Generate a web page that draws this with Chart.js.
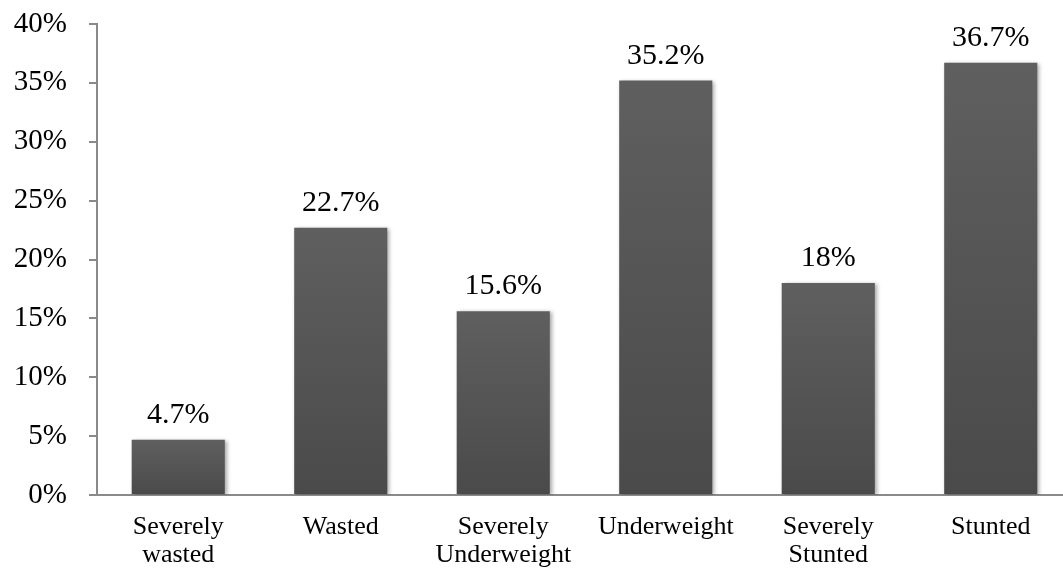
<!DOCTYPE html>
<html>
<head>
<meta charset="utf-8">
<script src="https://cdn.jsdelivr.net/npm/chart.js@4/dist/chart.umd.min.js"></script>
<style>
  html, body { margin: 0; padding: 0; background: #fff; overflow: hidden; }
  #wrap { width: 1063px; height: 572px; overflow: hidden; }
</style>
</head>
<body>
<div id="wrap"><canvas id="malnutrition" width="1072" height="572"></canvas></div>
<script>
const categories = [
  ['Severely', 'wasted'],
  'Wasted',
  ['Severely', 'Underweight'],
  'Underweight',
  ['Severely', 'Stunted'],
  'Stunted'
];
const prevalence = [4.7, 22.7, 15.6, 35.2, 18, 36.7];
const valueLabels = ['4.7%', '22.7%', '15.6%', '35.2%', '18%', '36.7%'];

const serif = "'Liberation Serif', 'Times New Roman', serif";
const axisGrey = '#8a8a8a';

// soft drop shadow behind the bars
const barShadow = {
  id: 'barShadow',
  beforeDatasetsDraw(chart) {
    const c = chart.ctx;
    c.save();
    c.shadowColor = 'rgba(0,0,0,0.35)';
    c.shadowBlur = 4;
    c.shadowOffsetX = 2;
    c.shadowOffsetY = 1;
  },
  afterDatasetsDraw(chart) {
    chart.ctx.restore();
  }
};

// value text above each bar
const valueText = {
  id: 'valueText',
  afterDatasetsDraw(chart) {
    const c = chart.ctx;
    const meta = chart.getDatasetMeta(0);
    c.save();
    c.font = '30px ' + serif;
    c.fillStyle = '#000';
    c.textAlign = 'center';
    c.textBaseline = 'alphabetic';
    meta.data.forEach((bar, i) => {
      c.fillText(valueLabels[i], bar.x, bar.y - 17);
    });
    c.restore();
  }
};

new Chart(document.getElementById('malnutrition'), {
  type: 'bar',
  data: {
    labels: categories,
    datasets: [{
      data: prevalence,
      backgroundColor: (ctx) => {
        const chart = ctx.chart;
        if (!chart.chartArea || ctx.raw === undefined) return '#555555';
        const y = chart.scales.y;
        const top = y.getPixelForValue(ctx.raw);
        const bottom = y.getPixelForValue(0);
        const g = chart.ctx.createLinearGradient(0, top, 0, bottom);
        g.addColorStop(0, '#5f5f5f');
        g.addColorStop(1, '#4a4a4a');
        return g;
      },
      borderWidth: 0,
      categoryPercentage: 1,
      barPercentage: 0.573
    }]
  },
  options: {
    responsive: false,
    animation: false,
    layout: { padding: { top: 24, left: 0, right: 0, bottom: 0 } },
    plugins: {
      legend: { display: false },
      tooltip: { enabled: false }
    },
    scales: {
      x: {
        grid: { drawOnChartArea: false, drawTicks: false },
        border: { display: true, color: axisGrey, width: 2 },
        ticks: {
          color: '#000',
          padding: 18,
          maxRotation: 0,
          autoSkip: false,
          font: { family: serif, size: 26, lineHeight: 1.08 }
        },
        afterFit(scale) { scale.height = 77; }
      },
      y: {
        min: 0,
        max: 40,
        grid: { drawOnChartArea: false, drawTicks: true, tickLength: 8, color: axisGrey, lineWidth: 2 },
        border: { display: true, color: axisGrey, width: 2 },
        ticks: {
          stepSize: 5,
          color: '#000',
          padding: 22,
          font: { family: serif, size: 29 },
          callback: (v) => v + '%'
        },
        afterFit(scale) {
          scale.width = 97;
          scale.paddingTop = 0;
          scale.paddingBottom = 0;
        }
      }
    }
  },
  plugins: [barShadow, valueText]
});
</script>
</body>
</html>
